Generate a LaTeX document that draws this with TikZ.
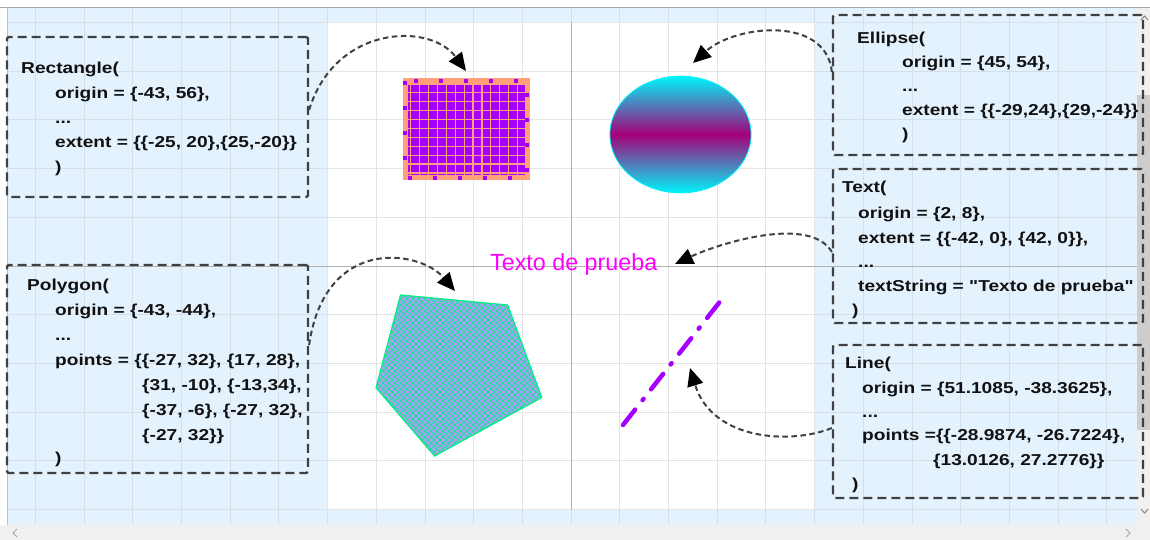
\documentclass[tikz,border=0pt]{standalone}
\usepackage{fontspec}
\usetikzlibrary{arrows.meta}
\newfontfamily\codefont{Liberation Sans}[FakeStretch=1.21]
\newfontfamily\labfont{Liberation Sans}
\definecolor{bluebg}{RGB}{228,242,254}
\definecolor{bluegrid}{RGB}{212,223,233}
\definecolor{cgrid}{RGB}{228,228,228}
\definecolor{axisc}{RGB}{178,178,178}
\definecolor{salmonc}{RGB}{255,160,122}
\definecolor{vio}{RGB}{165,0,255}
\definecolor{plumc}{RGB}{165,0,120}
\definecolor{cyanc}{RGB}{0,245,250}
\definecolor{magc}{RGB}{255,0,255}
\definecolor{lav}{RGB}{165,162,245}
\definecolor{hatch}{RGB}{0,240,130}
\definecolor{boxline}{RGB}{64,64,64}
\definecolor{sbtrack}{RGB}{240,240,240}
\definecolor{sbthumb}{RGB}{205,205,205}
\definecolor{codetext}{RGB}{17,17,17}
\begin{document}
\begin{tikzpicture}[x=1pt,y=-1pt,
  codebox/.style={draw=boxline,line width=2.2pt,dash pattern=on 9pt off 5pt,inner sep=0pt,rounded corners=1.5pt},
  code/.style={anchor=base west,inner sep=0pt,text=codetext,font=\codefont\bfseries\fontsize{15.8}{19}\selectfont},
  conn/.style={draw=boxline,line width=2pt,dash pattern=on 5.5pt off 3.5pt,-{Triangle[length=18pt,width=16pt,color=black]}},
  bgrid/.style={draw=bluegrid,line width=0.8pt},
  cgridl/.style={draw=cgrid,line width=0.8pt},
  chev/.style={draw=gray,line width=0.9pt}]
\useasboundingbox (0,0) rectangle (1150,540);
\fill[white] (0,0) rectangle (1150,540);
% blue work area with grid
\fill[bluebg] (7,8) rectangle (1137,525);
\foreach \k in {-11,...,11} {\draw[bgrid] ({571+48.7*\k},8) -- ({571+48.7*\k},525);}
\foreach \k in {-5,...,5} {\draw[bgrid] (7,{266+48.7*\k}) -- (1137,{266+48.7*\k});}
% white canvas
\fill[white] (327.5,22.5) rectangle (814.5,509.5);
\foreach \k in {-5,...,5} {
  \draw[cgridl] ({571+48.7*\k},22.5) -- ({571+48.7*\k},509.5);
  \draw[cgridl] (327.5,{266+48.7*\k}) -- (814.5,{266+48.7*\k});}
\draw[axisc,line width=0.9pt] (571,22.5) -- (571,509.5);
\draw[axisc,line width=0.9pt] (7,266) -- (1137,266);
% window border
\draw[gray!70,line width=1pt] (0,7.5) -- (1150,7.5);
\draw[gray!50,line width=0.8pt] (7,7.5) -- (7,525);
% scrollbars
\fill[sbtrack] (1137,8) rectangle (1150,525);
\fill[sbthumb] (1137,95) rectangle (1150,430);
\fill[sbtrack] (0,525) rectangle (1150,540);
\draw[chev] (1141,20) -- (1144.5,16) -- (1148,20);
\draw[chev] (1141,509) -- (1144.5,513) -- (1148,509);
\draw[chev,draw=gray!70] (17,529) -- (13,533) -- (17,537);
\draw[chev,draw=gray!70] (1126,529) -- (1130,533) -- (1126,537);
% Rectangle shape
\fill[vio] (405,81) rectangle (527,178);
\begin{scope}
  \clip (405,81) rectangle (527,178);
  \foreach \i in {0,...,13} {\draw[salmonc,line width=1.2pt] ({410.7+8.9*\i},81) -- ++(0,97);}
  \foreach \j in {0,...,10} {\draw[salmonc,line width=1.2pt] (405,{84+8.9*\j}) -- ++(122,0);}
\end{scope}
\draw[salmonc,line width=5pt] (405,81) rectangle (527,178);
\draw[vio,line width=4pt,dash pattern=on 4pt off 21pt] (405,81) rectangle (527,178);
% Ellipse shape
\shade[top color=cyanc,bottom color=cyanc,middle color=plumc] (680.5,134.5) ellipse [x radius=70.6,y radius=58.4];
\draw[cyanc,line width=0.8pt] (680.5,134.5) ellipse [x radius=70.6,y radius=58.4];
% Polygon shape
\begin{scope}
  \clip (400.5,295) -- (507.7,305) -- (541.8,397.5) -- (434.6,456) -- (376,387.7) -- cycle;
  \fill[lav] (370,290) rectangle (550,460);
  \foreach \c in {0,...,85} {
    \draw[hatch,line width=0.6pt] ({206+6*\c},290) -- ++(170,170);
    \draw[hatch,line width=0.6pt] ({206+6*\c},290) -- ++(-170,170);}
\end{scope}
\draw[hatch,line width=1.2pt] (400.5,295) -- (507.7,305) -- (541.8,397.5) -- (434.6,456) -- (376,387.7) -- cycle;
% Line shape
\draw[vio,line width=4.5pt,line cap=round,dash pattern=on 19.5pt off 12.2pt on 1.5pt off 12.2pt] (623,425) -- (722,299);
% Text shape
\node[anchor=base west,inner sep=0pt,text=magc,font=\labfont\fontsize{23.3}{28}\selectfont] (txt) at (490,270) {Texto de prueba};
% annotation boxes
\node[codebox,minimum width=301pt,minimum height=160pt] (rbox) at (157.5,117) {};
\node[codebox,minimum width=301pt,minimum height=208pt] (pbox) at (157.5,369) {};
\node[codebox,minimum width=310pt,minimum height=140pt] (ebox) at (988,85) {};
\node[codebox,minimum width=310pt,minimum height=154pt] (tbox) at (988,246) {};
\node[codebox,minimum width=310pt,minimum height=153pt] (lbox) at (988,421.5) {};
% Rectangle text
\node[code] (r1) at (21,74) {Rectangle(};
\node[code] (r2) at (55,99) {origin = \{-43, 56\},};
\node[code] (r3) at (55,123.5) {...};
\node[code] (r4) at (55,148) {extent = \{\{-25, 20\},\{25,-20\}\}};
\node[code] (r5) at (55,172.5) {)};
% Polygon text
\node[code] (p1) at (27,290) {Polygon(};
\node[code] (p2) at (55,315) {origin = \{-43, -44\},};
\node[code] (p3) at (55,340) {...};
\node[code] (p4) at (55,365) {points = \{\{-27, 32\}, \{17, 28\},};
\node[code] (p5) at (142,390) {\{31, -10\}, \{-13,34\},};
\node[code] (p6) at (142,415) {\{-37, -6\}, \{-27, 32\},};
\node[code] (p7) at (142,440) {\{-27, 32\}\}};
\node[code] (p8) at (55,463) {)};
% Ellipse text
\node[code] (e1) at (857,44) {Ellipse(};
\node[code] (e2) at (902,68) {origin = \{45, 54\},};
\node[code] (e3) at (902,92) {...};
\node[code] (e4) at (902,116) {extent = \{\{-29,24\},\{29,-24\}\}};
\node[code] (e5) at (902,140) {)};
% Text text
\node[code] (t1) at (842,193) {Text(};
\node[code] (t2) at (858,218) {origin = \{2, 8\},};
\node[code] (t3) at (858,243) {extent = \{\{-42, 0\}, \{42, 0\}\},};
\node[code] (t4) at (858,267) {...};
\node[code] (t5) at (858,291) {textString = "Texto de prueba"};
\node[code] (t6) at (852,315) {)};
% Line text
\node[code] (l1) at (845,368) {Line(};
\node[code] (l2) at (862,393) {origin = \{51.1085, -38.3625\},};
\node[code] (l3) at (862,417) {...};
\node[code] (l4) at (862,440) {points =\{\{-28.9874, -26.7224\},};
\node[code] (l5) at (933,465) {\{13.0126, 27.2776\}\}};
\node[code] (l6) at (852,489) {)};
% targets
\coordinate (rtgt) at (466,71);
\coordinate (etgt) at (693,63);
\coordinate (ptgt) at (455,291);
\coordinate (ttgt) at (675,264);
\coordinate (ltgt) at (690,368);
% connectors
\draw[conn] ([yshift=7pt]rbox.east) .. controls (335,25) and (430,22) .. (rtgt);
\draw[conn] ([yshift=13pt]ebox.west) .. controls (826,15) and (735,25) .. (etgt);
\draw[conn] ([yshift=24pt]pbox.east) .. controls (325,235) and (420,250) .. (ptgt);
\draw[conn] ([yshift=-6pt]tbox.west) .. controls (810,215) and (720,243) .. (ttgt);
\draw[conn] ([yshift=-6.5pt]lbox.west) .. controls (790,445) and (712,440) .. (ltgt);
\end{tikzpicture}
\end{document}
